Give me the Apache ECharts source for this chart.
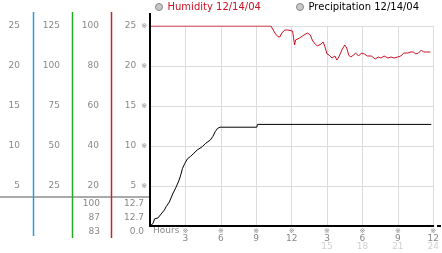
<!DOCTYPE html>
<html><head><meta charset="utf-8">
<script src="https://cdn.jsdelivr.net/npm/echarts@6/dist/echarts.min.js"></script>
<style>html,body{margin:0;padding:0;background:#fff}#c{width:442px;height:253px}</style>
</head><body><div id="c"></div>
<script>
// ---- data ----
const humHours = [0, 10.25, 10.58, 10.83, 11.0, 11.17, 11.33, 11.42, 11.67, 12.08, 12.25, 12.33, 12.67, 12.92, 13.33, 13.58, 13.75, 13.92, 14.0, 14.17, 14.33, 14.5, 14.67, 14.83, 15.0, 15.17, 15.42, 15.67, 15.83, 16.0, 16.25, 16.5, 16.67, 16.83, 17.0, 17.25, 17.42, 17.67, 17.92, 18.17, 18.42, 18.75, 19.08, 19.33, 19.58, 19.83, 20.17, 20.42, 20.67, 21.0, 21.25, 21.5, 21.83, 22.08, 22.33, 22.5, 22.75, 23.0, 23.17, 23.42, 23.75];
const humValues = [100, 100, 96.5, 94.7, 94.5, 96.5, 97.5, 98, 98, 97.5, 90.5, 93, 94, 95, 96.5, 95.5, 93, 91.5, 92.5, 90, 89, 91, 92, 89.5, 86, 85.5, 84, 85, 83, 84.5, 88, 90.5, 89, 85.5, 84.5, 85.5, 86.5, 85, 86.5, 86, 85, 85, 83.5, 84.5, 84, 85, 84, 84.5, 84, 84.5, 85, 86.5, 86.5, 87, 87, 86, 86.5, 88, 87, 87, 87];
const precipHours = [0, 0.25, 0.39, 0.67, 0.94, 1.22, 1.36, 1.64, 1.92, 2.19, 2.47, 2.61, 2.75, 2.94, 3.17, 3.44, 3.72, 4.0, 4.42, 4.69, 5.11, 5.33, 5.53, 5.72, 5.94, 9.05, 9.1, 23.83];
const precipValues = [0, 0.3, 0.9, 1.0, 1.5, 2.0, 2.4, 3.0, 4.0, 4.8, 5.75, 6.4, 7.2, 7.8, 8.4, 8.7, 9.1, 9.5, 9.9, 10.3, 10.75, 11.2, 11.8, 12.2, 12.35, 12.35, 12.7, 12.7];
const hourTicks = [3, 6, 9, 12, 15, 18, 21, 24];
const hourLabels = ['3', '6', '9', '12', '3', '6', '9', '12'];
const hourLabels2 = ['', '', '', '', '15', '18', '21', '24'];
const humStats = ['100', '87', '83'];
const precipStats = ['12.7', '12.7', '0.0'];
const seriesNames = ['Humidity 12/14/04', 'Precipitation 12/14/04'];

const FF = 'DejaVu Sans';
const chart = echarts.init(document.getElementById('c'), null, {renderer: 'canvas'});

function leftAxis(max, interval, offset, margin, rich) {
  return {
    type: 'value', position: 'left', min: 0, max: max, interval: interval, offset: offset,
    axisLine: {show: false}, axisTick: {show: false}, splitLine: {show: false},
    axisLabel: {
      showMinLabel: false, margin: margin, color: '#888', fontSize: 9, fontFamily: FF,
      formatter: rich ? (v => '{v|' + v + '}{m|※}') : undefined,
      rich: rich ? {v: {fontSize: 9, color: '#888', fontFamily: FF}, m: {fontSize: 7, color: '#888', padding: [0, 0, 0, 5], fontFamily: FF}} : undefined
    }
  };
}

const statsGraphics = [];
[humStats, precipStats].forEach((arr, c) => {
  arr.forEach((s, i) => {
    statsGraphics.push({
      type: 'text', x: c === 0 ? 100 : 144, y: 204 + i * 14,
      style: {text: s, fill: '#888', font: '9px "DejaVu Sans"', textAlign: 'right', textVerticalAlign: 'middle'}
    });
  });
});

const option = {
  animation: false,
  backgroundColor: '#fff',
  grid: {left: 150, right: 4, top: 26, bottom: 27, containLabel: false},
  legend: [
    {left: 155, top: 2, itemWidth: 7, itemHeight: 7, icon: 'circle', padding: 0,
     data: [{name: seriesNames[0], itemStyle: {color: '#c8c8c8', borderColor: '#888', borderWidth: 1}, textStyle: {color: '#cc1122'}}],
     textStyle: {fontSize: 10, fontFamily: FF}},
    {left: 296, top: 2, itemWidth: 7, itemHeight: 7, icon: 'circle', padding: 0,
     data: [{name: seriesNames[1], itemStyle: {color: '#c8c8c8', borderColor: '#888', borderWidth: 1}, textStyle: {color: '#000'}}],
     textStyle: {fontSize: 10, fontFamily: FF}}
  ],
  xAxis: {
    type: 'value', min: 0, max: 24, interval: 3,
    axisLine: {lineStyle: {color: '#000', width: 2}},
    axisTick: {show: false},
    splitLine: {show: true, lineStyle: {color: '#dcdcdc', width: 1}},
    axisLabel: {
      margin: 1, showMinLabel: false,
      formatter: function (v) {
        const i = hourTicks.indexOf(v);
        if (i < 0) return '';
        return '{m|※}\n{n|' + hourLabels[i] + '}\n{g|' + (hourLabels2[i] || ' ') + '}';
      },
      rich: {
        m: {fontSize: 7, color: '#888', lineHeight: 8, fontFamily: FF},
        n: {fontSize: 9, color: '#888', lineHeight: 8, fontFamily: FF},
        g: {fontSize: 9, color: '#d0d0d0', lineHeight: 8, fontFamily: FF}
      }
    }
  },
  yAxis: [
    Object.assign(leftAxis(25, 5, 0, 3, true), {splitLine: {show: true, showMaxLine: true, lineStyle: {color: '#dcdcdc', width: 1}}}),
    leftAxis(125, 25, 78, 12, false),
    leftAxis(100, 20, 39, 12, false),
    leftAxis(25, 5, 117, 13, false)
  ],
  series: [
    {name: seriesNames[0], type: 'line', yAxisIndex: 2, showSymbol: false, symbol: 'none',
     lineStyle: {color: '#cc1122', width: 1}, itemStyle: {color: '#cc1122'},
     data: humHours.map((h, i) => [h, humValues[i]])},
    {name: seriesNames[1], type: 'line', yAxisIndex: 0, showSymbol: false, symbol: 'none',
     lineStyle: {color: '#000', width: 1}, itemStyle: {color: '#000'},
     data: precipHours.map((h, i) => [h, precipValues[i]])}
  ],
  graphic: [
    {type: 'line', shape: {x1: 0, y1: 197, x2: 150, y2: 197}, style: {stroke: '#aaa', lineWidth: 2}, z: 1},
    {type: 'line', shape: {x1: 33.5, y1: 12, x2: 33.5, y2: 236}, style: {stroke: '#22a0dd', lineWidth: 1.5}, z: 2},
    {type: 'line', shape: {x1: 72.5, y1: 12, x2: 72.5, y2: 238}, style: {stroke: '#22aa22', lineWidth: 1.5}, z: 2},
    {type: 'line', shape: {x1: 111.5, y1: 12, x2: 111.5, y2: 238}, style: {stroke: '#cc2222', lineWidth: 1.5}, z: 2},
    {type: 'line', shape: {x1: 150, y1: 13, x2: 150, y2: 227}, style: {stroke: '#000', lineWidth: 2}, z: 100},
    {type: 'line', shape: {x1: 437, y1: 226, x2: 441, y2: 226}, style: {stroke: '#000', lineWidth: 2}, z: 100},
    {type: 'text', x: 153, y: 231, style: {text: 'Hours', fill: '#888', font: '9px "DejaVu Sans"', textVerticalAlign: 'middle'}}
  ].concat(statsGraphics)
};
chart.setOption(option);
</script></body></html>
